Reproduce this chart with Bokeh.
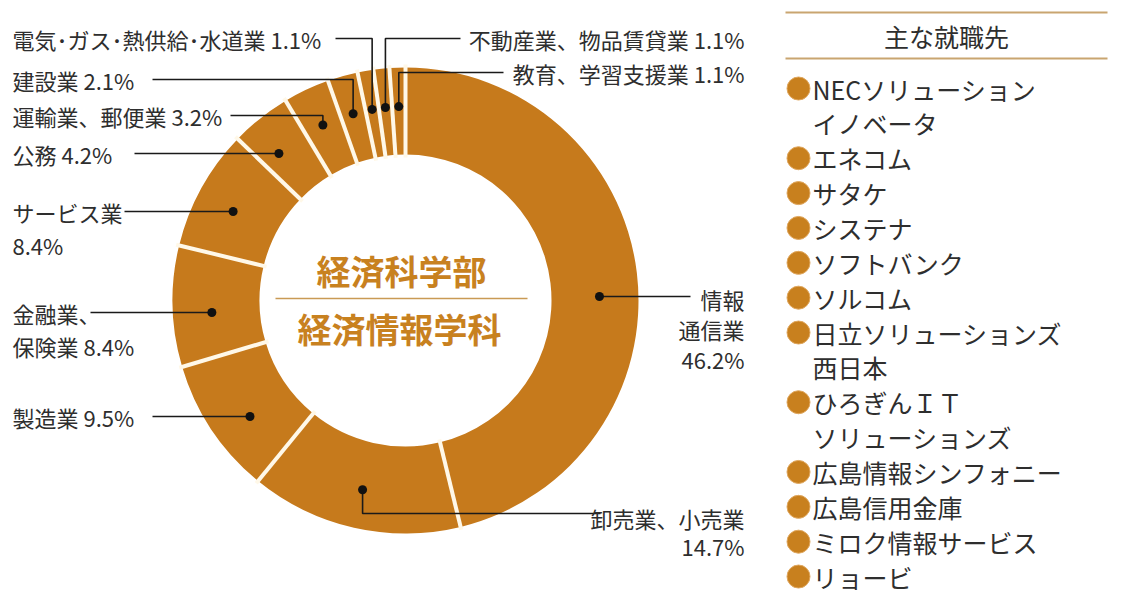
import math
from bokeh.plotting import figure
from bokeh.models import Range1d, ColumnDataSource
from bokeh.core.properties import value
from bokeh.embed import file_html
from bokeh.resources import INLINE

# ---------------- data ----------------
industries = ["情報\n通信業", "卸売業、小売業", "製造業", "金融業、\n保険業", "サービス業",
              "公務", "運輸業、郵便業", "建設業", "電気･ガス･熱供給･水道業",
              "不動産業、物品賃貸業", "教育、学習支援業"]
shares = [46.2, 14.7, 9.5, 8.4, 8.4, 4.2, 3.2, 2.1, 1.1, 1.1, 1.1]

companies = ["NECソリューション\nイノベータ", "エネコム", "サタケ", "システナ", "ソフトバンク",
             "ソルコム", "日立ソリューションズ\n西日本", "ひろぎんＩＴ\nソリューションズ",
             "広島情報シンフォニー", "広島信用金庫", "ミロク情報サービス", "リョービ"]
center_title = ["経済科学部", "経済情報学科"]
legend_title = "主な就職先"

# ---------------- style / layout ----------------
FONT = value("Noto Sans CJK JP")
ORANGE = "#C67A1C"
SEP = "#FFF8E8"
TAN = "#C9A570"
TXT = "#2E2E2E"
W, H = 1118, 594
CX, CY = 405, 300          # screen coords of donut centre
R_OUT, R_IN, R_DOT = 233, 146, 194

def Y(sy):
    return 610 - sy

p = figure(width=W, height=H, x_range=Range1d(0, W), y_range=Range1d(610 - H, 610),
           output_backend="svg", toolbar_location=None, min_border=0)
p.axis.visible = False
p.grid.visible = False
p.outline_line_color = None
p.background_fill_color = "white"
p.border_fill_color = "white"

# ---------------- donut ----------------
total = sum(shares)
cum = [0.0]
for s in shares:
    cum.append(cum[-1] + s)
starts = [math.pi / 2 - 2 * math.pi * c / total for c in cum[:-1]]
ends = [math.pi / 2 - 2 * math.pi * c / total for c in cum[1:]]
src = ColumnDataSource(dict(start=starts, end=ends))
p.annular_wedge(x=CX, y=Y(CY), inner_radius=R_IN, outer_radius=R_OUT,
                start_angle="start", end_angle="end", direction="clock",
                fill_color=ORANGE, line_color=None, source=src)

# separators
sx0 = [CX + (R_IN - 3) * math.cos(a) for a in starts]
sy0 = [Y(CY) + (R_IN - 3) * math.sin(a) for a in starts]
sx1 = [CX + (R_OUT + 3) * math.cos(a) for a in starts]
sy1 = [Y(CY) + (R_OUT + 3) * math.sin(a) for a in starts]
p.segment(sx0, sy0, sx1, sy1, line_color=SEP, line_width=4)

# ---------------- leaders & labels ----------------
# (mode, leader_y, leader_end_x, side, text_x, sep, first_line_y, line_gap)
layout = [
    ("h", 296, 690, 1, 744, "\n", 298, 30),
    ("e", 513, 600, 1, 744, "\n", 517, 28),
    ("h", 416, 152, -1, 12, " ", 416, 33),
    ("h", 312, 90, -1, 12, " ", 312, 33),
    ("h", 211, 124, -1, 12, "\n", 211, 33),
    ("h", 153, 134, -1, 12, " ", 153, 33),
    ("e", 115, 230, -1, 12, " ", 115, 33),
    ("e", 79, 152, -1, 12, " ", 79, 33),
    ("e", 38, 335, -1, 12, " ", 38, 33),
    ("e", 38, 460, 1, 744, " ", 38, 33),
    ("e", 72, 503, 1, 744, " ", 72, 33),
]

dot_x, dot_y, lxs, lys = [], [], [], []
tx_l, ty_l, tt_l = [], [], []
tx_r, ty_r, tt_r = [], [], []
for i, (mode, ly, ex, side, tx, sep, fy, gap) in enumerate(layout):
    phi = 2 * math.pi * (cum[i] + shares[i] / 2) / total
    if mode == "h":
        dx = side * math.sqrt(R_DOT ** 2 - (ly - CY) ** 2)
        px, py = CX + dx, ly
    else:
        px, py = CX + R_DOT * math.sin(phi), CY - R_DOT * math.cos(phi)
    dot_x.append(px)
    dot_y.append(Y(py))
    lxs.append([px, px, ex])
    lys.append([Y(py), Y(ly), Y(ly)])
    label = industries[i] + sep + f"{shares[i]}%"
    for k, line in enumerate(label.split("\n")):
        if side > 0:
            tx_r.append(tx); ty_r.append(Y(fy + k * gap)); tt_r.append(line)
        else:
            tx_l.append(tx); ty_l.append(Y(fy + k * gap)); tt_l.append(line)

p.multi_line(lxs, lys, line_color="#1A1A1A", line_width=1.6)
p.scatter(dot_x, dot_y, size=9, fill_color="#111111", line_color=None)
p.text(tx_l, ty_l, text=tt_l, text_font=FONT, text_font_size="22px", text_color=TXT,
       text_align="left", text_baseline="middle")
p.text(tx_r, ty_r, text=tt_r, text_font=FONT, text_font_size="22px", text_color=TXT,
       text_align="right", text_baseline="middle")

# ---------------- centre title ----------------
p.text([401, 399], [Y(270), Y(328)], text=center_title, text_font=FONT,
       text_font_size="34px", text_font_style="bold", text_color="#C8811F",
       text_align="center", text_baseline="middle")
p.segment([275], [Y(298)], [527], [Y(298)], line_color="#C99A55", line_width=1.5)

# ---------------- company list ----------------
p.segment([785, 785], [Y(12), Y(58)], [1107, 1107], [Y(12), Y(58)], line_color=TAN, line_width=2)
p.text([946], [Y(35)], text=[legend_title], text_font=FONT, text_font_size="25px",
       text_color=TXT, text_align="center", text_baseline="middle")

row = 0
bx, by, cx_, cy_, ct = [], [], [], [], []
for name in companies:
    by.append(Y(88 + row * 34.86))
    bx.append(798)
    for line in name.split("\n"):
        cx_.append(812); cy_.append(Y(88 + row * 34.86)); ct.append(line)
        row += 1
p.scatter(bx, by, size=23, fill_color="#C8801E", line_color="#E0A860", line_width=1)
p.text(cx_, cy_, text=ct, text_font=FONT, text_font_size="25px", text_color=TXT,
       text_align="left", text_baseline="middle")

open("out.html", "w").write(file_html(p, INLINE))
